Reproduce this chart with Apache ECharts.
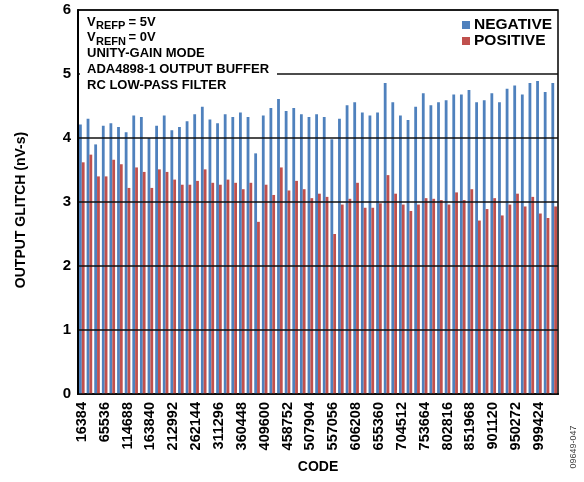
<!DOCTYPE html>
<html>
<head>
<meta charset="utf-8">
<script src="https://cdn.jsdelivr.net/npm/echarts@6/dist/echarts.min.js"></script>
<style>html,body{margin:0;padding:0;background:#fff;}#c{width:584px;height:482px;}</style>
</head>
<body>
<div id="c"></div>
<script>
const categories = [16384,32768,49152,65536,81920,98304,114688,131072,147456,163840,180224,196608,212992,229376,245760,262144,278528,294912,311296,327680,344064,360448,376832,393216,409600,425984,442368,458752,475136,491520,507904,524288,540672,557056,573440,589824,606208,622592,638976,655360,671744,688128,704512,720896,737280,753664,770048,786432,802816,819200,835584,851968,868352,884736,901120,917504,933888,950272,966656,983040,999424,1015808,1032192];
const negative = [4.21,4.30,3.90,4.19,4.23,4.17,4.09,4.35,4.33,4.00,4.19,4.35,4.12,4.17,4.26,4.37,4.49,4.29,4.23,4.37,4.33,4.40,4.33,3.76,4.35,4.47,4.61,4.42,4.47,4.37,4.33,4.37,
 4.33,3.98,4.30,4.51,4.56,4.40,4.35,4.40,4.86,4.56,4.35,4.28,4.49,4.70,4.51,4.56,4.59,4.68,4.68,4.75,4.56,4.59,4.70,4.56,4.77,4.82,4.68,4.86,4.89,4.72,4.86];
const positive = [3.62,3.74,3.40,3.40,3.66,3.59,3.22,3.54,3.47,3.22,3.51,3.47,3.35,3.27,3.27,3.33,3.51,3.30,3.27,3.35,3.30,3.20,3.30,2.69,3.27,3.11,3.54,3.18,3.33,3.20,3.06,3.13,
 3.08,2.50,2.96,3.05,3.30,2.91,2.91,2.98,3.42,3.13,2.96,2.86,2.96,3.06,3.05,3.03,2.96,3.15,3.03,3.20,2.71,2.89,3.06,2.79,2.96,3.13,2.93,3.08,2.82,2.75,2.93];
const yTicks = [0,1,2,3,4,5,6];
const refLines = [['REFP',' = 5V'],['REFN',' = 0V']];
const notes = ['UNITY-GAIN MODE','ADA4898-1 OUTPUT BUFFER','RC LOW-PASS FILTER'];

const FF = '"Liberation Sans", Arial, sans-serif';
const chart = echarts.init(document.getElementById('c'), null, {renderer:'canvas'});
const txt = (x,y,t,font,extra) => Object.assign({type:'text', z:101, x:x, y:y,
  style:{text:t, font:font, fill:'#000', verticalAlign:'middle'}}, extra||{});
const noteGraphics = notes.map((t,i)=>txt(87, 53.5 + i*16.2, t, 'bold 13px ' + FF));
const refGraphics = [];
refLines.forEach((r,i)=>{
  const yc = 22 + i*15.8;
  refGraphics.push(txt(87, yc, 'V', 'bold 13px ' + FF));
  refGraphics.push(txt(96, yc + 4.2, r[0], 'bold 11px ' + FF));
  refGraphics.push(txt(125, yc, r[1], 'bold 13px ' + FF));
});
chart.setOption({
  animation:false,
  backgroundColor:'#fff',
  grid:{left:78, right:26, top:10, bottom:88, show:true, borderColor:'#000', borderWidth:1.5, backgroundColor:'transparent'},
  legend:{
    orient:'vertical', left:457, top:12, itemWidth:8, itemHeight:8, itemGap:0,
    icon:'rect',
    textStyle:{fontSize:15.5, fontWeight:'bold', fontFamily:FF, color:'#000', lineHeight:15.5, padding:[0,0,0,-1]},
    data:['NEGATIVE','POSITIVE']
  },
  xAxis:{
    type:'category', data:categories,
    name:'CODE', nameLocation:'middle', nameGap:66,
    nameTextStyle:{fontSize:14, fontWeight:'bold', fontFamily:FF, color:'#000'},
    axisLine:{show:true, lineStyle:{color:'#000', width:2}},
    axisTick:{show:false},
    axisLabel:{interval:2, rotate:90, margin:8, fontSize:14.5, fontWeight:'bold', fontFamily:FF, color:'#000'},
    splitLine:{show:false}
  },
  yAxis:{
    type:'value', min:yTicks[0], max:yTicks[yTicks.length-1], interval:1, z:3,
    axisLine:{show:true, lineStyle:{color:'#000', width:2}},
    axisTick:{show:false},
    axisLabel:{margin:7, fontSize:15, fontWeight:'bold', fontFamily:FF, color:'#000'},
    splitLine:{show:true, lineStyle:{color:'#111', width:1.5}}
  },
  series:[
    {name:'NEGATIVE', type:'bar', data:negative, barWidth:2.8, barGap:'0%', itemStyle:{color:'#4F81BD'}},
    {name:'POSITIVE', type:'bar', data:positive, barWidth:2.8, barGap:'0%', itemStyle:{color:'#C0504D'}}
  ],
  graphic:[
    {type:'rect', z:100, shape:{x:80, y:12, width:197, height:82}, style:{fill:'#fff'}},
    ...refGraphics,
    ...noteGraphics,
    {type:'text', z:101, x:21, y:210, rotation:Math.PI/2,
     style:{text:'OUTPUT GLITCH (nV-s)', font:'bold 14px ' + FF, fill:'#000', align:'center', verticalAlign:'middle'}},
    {type:'text', z:101, x:574, y:447, rotation:Math.PI/2,
     style:{text:'09649-047', font:'9px ' + FF, fill:'#444', align:'center', verticalAlign:'middle'}}
  ]
});
</script>
</body>
</html>
